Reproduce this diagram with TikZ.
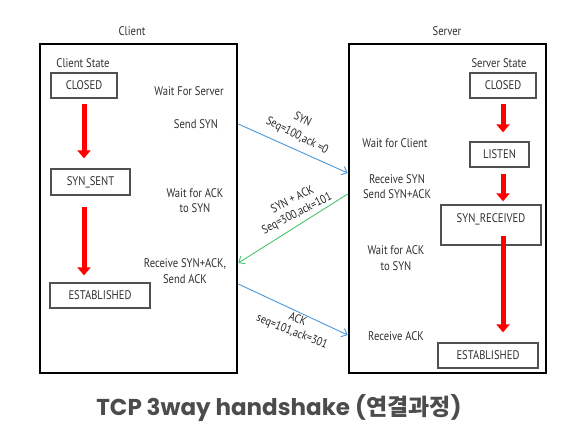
\documentclass[tikz,border=0pt]{standalone}
\usepackage{fontspec}
\setmainfont{PT Sans}[FakeStretch=0.85]
\newfontfamily\titlefont{Poppins}
\newfontfamily\titlecjk{Noto Sans CJK KR}
\usetikzlibrary{arrows.meta}
\definecolor{txt}{HTML}{303030}
\definecolor{boxgray}{HTML}{505050}
\definecolor{msgblue}{HTML}{4A98DA}
\definecolor{msggreen}{HTML}{48C46E}
\definecolor{titlegray}{HTML}{4C4C4C}
\tikzset{
  outerbox/.style={draw=black, line width=2.6pt, minimum width=197pt, minimum height=329pt, inner sep=0pt},
  statebox/.style={draw=boxgray, line width=1.3pt, inner sep=0pt, font=\fontsize{12.5}{14}\selectfont, text=txt},
  plain/.style={font=\fontsize{12.5}{15.5}\selectfont, text=txt, align=center, inner sep=0pt},
  msglabel/.style={font=\fontsize{12}{14}\selectfont, text=black!85, inner sep=0pt},
  redarrow/.style={red, line width=5pt, -{Triangle[width=13pt,length=8pt]}},
  msgarrow/.style={line width=0.9pt, -{Straight Barb[length=5pt,width=9pt]}},
}
\begin{document}
\begin{tikzpicture}[x=1pt,y=-1pt]
\useasboundingbox (0,0) rectangle (570,440);
% outer boxes
\node[outerbox] (cbox) at (138.5,208.5) {};
\node[outerbox] (sbox) at (447.5,208.5) {};
\node[plain] (clabel) at (132,31) {Client};
\node[plain] (slabel) at (447,31) {Server};
% client states
\node[plain] (cstate) at (83,63) {Client State};
\node[statebox, minimum width=66pt, minimum height=25pt] (cclosed) at (84,85.5) {CLOSED};
\node[statebox, minimum width=79pt, minimum height=26pt] (csent) at (90.5,182) {SYN\_SENT};
\node[statebox, minimum width=100pt, minimum height=25pt] (cest) at (100,295.5) {ESTABLISHED};
\draw[redarrow, shorten <=5pt, shorten >=10pt] (cclosed.south) -- (cclosed.south |- csent.north);
\draw[redarrow, shorten <=11pt, shorten >=7pt] (csent.south -| cclosed.south) -- (cest.north -| cclosed.south);
% server states
\node[plain] (sstate) at (499,63) {Server State};
\node[statebox, minimum width=66pt, minimum height=25pt] (sclosed) at (503,85.5) {CLOSED};
\node[statebox, minimum width=59pt, minimum height=25pt] (slisten) at (499.5,154.5) {LISTEN};
\node[statebox, minimum width=100pt, text height=17pt, text depth=23pt, inner ysep=0pt] (srecv) at (491,225) {SYN\_RECEIVED};
\node[statebox, minimum width=100pt, minimum height=25pt] (sest) at (488,355.5) {ESTABLISHED};
\draw[redarrow, shorten <=5pt, shorten >=9pt] (sclosed.south) -- (sclosed.south |- slisten.north);
\draw[redarrow, shorten <=6pt, shorten >=3pt] (slisten.south -| sclosed.south) -- (srecv.north -| sclosed.south);
\draw[redarrow, shorten <=-10pt, shorten >=10pt] (srecv.south -| sclosed.south) -- (sest.north -| sclosed.south);
% client side texts
\node[plain] (cwait) at (189,91) {Wait For Server};
\node[plain] (csend) at (196,124) {Send SYN};
\node[plain] (cwaitack) at (195,200.5) {Wait for ACK\\to SYN};
\node[plain] (crecv) at (185,271) {Receive SYN+ACK,\\Send ACK};
% server side texts
\node[plain] (swait) at (395,143) {Wait for Client};
\node[plain] (srecvsyn) at (397,186.5) {Receive SYN\\Send SYN+ACK};
\node[plain] (swaitack) at (396,258) {Wait for ACK\\to SYN};
\node[plain] (srecvack) at (396,336) {Receive ACK};
% message endpoints
\coordinate (c1) at (cbox.east |- 0,124);
\coordinate (s1) at (sbox.west |- 0,173);
\coordinate (s2) at (sbox.west |- 0,194);
\coordinate (c2) at (cbox.east |- 0,263);
\coordinate (c3) at (cbox.east |- 0,284);
\coordinate (s3) at (sbox.west |- 0,335);
\draw[msgarrow, msgblue] (c1) -- (s1);
\draw[msgarrow, msggreen] (s2) -- (c2);
\draw[msgarrow, msgblue] (c3) -- (s3);
\node[msglabel, rotate=-27] (l1a) at (303,119) {SYN};
\node[msglabel, rotate=-27] (l1b) at (297,136) {Seq=100,ack =0};
\node[msglabel, rotate=27] (l2a) at (292,199) {SYN + ACK};
\node[msglabel, rotate=27] (l2b) at (297,214) {Seq=300,ack=101};
\node[msglabel, rotate=-22] (l3a) at (298,319) {ACK};
\node[msglabel, rotate=-22] (l3b) at (292,332) {seq=101,ack=301};
% title
\node[font=\titlefont\bfseries\fontsize{23}{26}\selectfont, text=titlegray, inner sep=0pt] (title) at (279,408) {TCP 3way handshake ({\titlecjk\bfseries 연결과정})};
\end{tikzpicture}
\end{document}
